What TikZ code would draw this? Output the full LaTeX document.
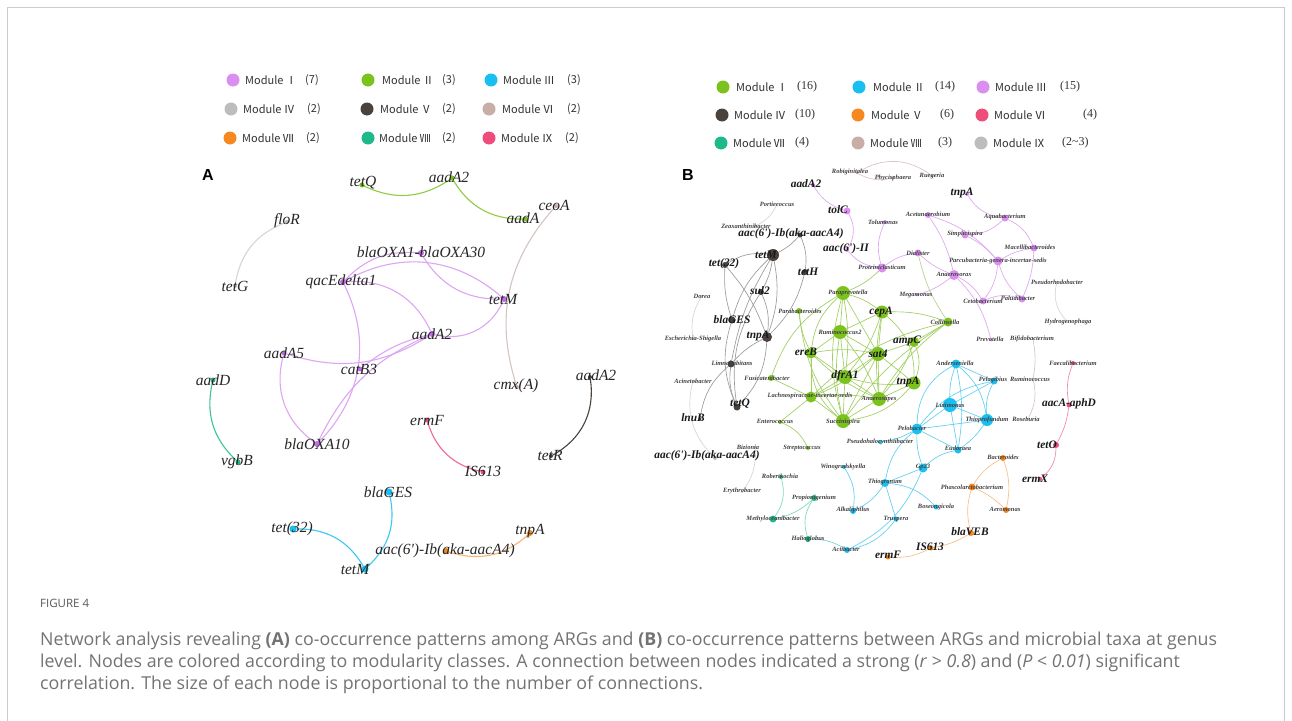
\documentclass[tikz,border=0pt]{standalone}
\usepackage{fontspec}
\setmainfont{Liberation Serif}
\newfontfamily\cjkf{Noto Sans CJK SC}
\newfontfamily\hvf{Liberation Sans}
\newfontfamily\capf{Open Sans}
\pgfdeclarelayer{bg}
\pgfdeclarelayer{edges}
\pgfdeclarelayer{lab}
\pgfsetlayers{bg,edges,main,lab}
% colours
\definecolor{cPur}{HTML}{DA8EF0}\definecolor{cPurD}{HTML}{C46BE8}\definecolor{cPurE}{HTML}{DDA6F2}
\definecolor{cGrn}{HTML}{7CC21E}\definecolor{cGrnE}{HTML}{9FCF5E}
\definecolor{cCyn}{HTML}{18BFF0}\definecolor{cCynE}{HTML}{5FCFF0}
\definecolor{cGry}{HTML}{BDBDBD}\definecolor{cGryE}{HTML}{D5D5D5}
\definecolor{cDrk}{HTML}{4A423D}\definecolor{cDrkE}{HTML}{9A9A9A}
\definecolor{cTan}{HTML}{C9AEA8}\definecolor{cTanE}{HTML}{D6C4C0}
\definecolor{cOrg}{HTML}{F5881F}\definecolor{cOrgE}{HTML}{F6BE88}
\definecolor{cTeal}{HTML}{1DB98B}\definecolor{cTealE}{HTML}{7AD8BE}
\definecolor{cPnk}{HTML}{EE4D7C}\definecolor{cPnkE}{HTML}{F088A8}
\definecolor{capc}{HTML}{737373}
\newcommand\gn[7]{\node[dot={#3}{#4}] (#1) at (#2) {};%
  \begin{pgfonlayer}{lab}\node[#6] (#1t) at (#5) {#7};\end{pgfonlayer}}
\newcommand\qs{\textquotesingle}
\begin{document}
\begin{tikzpicture}[x=1pt,y=-1pt,
  dot/.style 2 args={circle,fill=#2,minimum size=#1pt,inner sep=0pt,outer sep=0pt,draw=none},
  la/.style={font=\fontsize{15.5}{16}\selectfont\itshape,inner sep=0pt,text=black!85},
  lb/.style={font=\fontsize{11.4}{12}\selectfont\bfseries\itshape,inner sep=0pt,text=black!90},
  ls/.style={font=\fontsize{6.5}{7}\selectfont\bfseries\itshape,inner sep=0pt,text=black!75},
  ea/.style={line width=1.1pt,draw=#1},
  eb/.style={line width=0.65pt,draw=#1},
  legt/.style={font=\cjkf\fontsize{11}{12}\selectfont,anchor=west,inner sep=0pt,text=black!80},
  cnt/.style={font=\cjkf\fontsize{11}{12}\selectfont,anchor=west,inner sep=0pt,text=black!80},
  cntb/.style={font=\fontsize{12}{13}\selectfont,anchor=west,inner sep=0pt,text=black!80},
  captxt/.style={font=\capf\fontsize{17.8}{18}\selectfont,anchor=west,inner sep=0pt,text=capc}
]
\useasboundingbox (0,0) rectangle (1292,720);
\begin{pgfonlayer}{bg}
\fill[white] (0,0) rectangle (1292,720);
\begin{scope}
\clip (0,0) rectangle (1292,720);
\draw[black!20,line width=0.8pt] (7.5,7.5) rectangle (1284.5,740);
\end{scope}
\end{pgfonlayer}

% ================= Legend A =================
\node[dot={13}{cPur}] (lA1) at (233,80) {};  \node[legt] (lA1t) at (245,80) {Module Ⅰ};  \node[cnt] (lA1c) at (305,80) {(7)};
\node[dot={13}{cGrn}] (lA2) at (368,80) {};  \node[legt] (lA2t) at (382,80) {Module Ⅱ};  \node[cnt] (lA2c) at (442,80) {(3)};
\node[dot={13}{cCyn}] (lA3) at (491,80) {};  \node[legt] (lA3t) at (503,80) {Module Ⅲ};  \node[cnt] (lA3c) at (567,80) {(3)};
\node[dot={13}{cGry}] (lA4) at (231,109) {}; \node[legt] (lA4t) at (243,109) {Module Ⅳ}; \node[cnt] (lA4c) at (307,109) {(2)};
\node[dot={13}{cDrk}] (lA5) at (367,109) {}; \node[legt] (lA5t) at (380,109) {Module Ⅴ}; \node[cnt] (lA5c) at (442,109) {(2)};
\node[dot={13}{cTan}] (lA6) at (489,109) {}; \node[legt] (lA6t) at (502,109) {Module Ⅵ}; \node[cnt] (lA6c) at (567,109) {(2)};
\node[dot={13}{cOrg}] (lA7) at (230,138) {}; \node[legt] (lA7t) at (242,138) {Module Ⅶ}; \node[cnt] (lA7c) at (306,138) {(2)};
\node[dot={13}{cTeal}] (lA8) at (368,138) {};\node[legt] (lA8t) at (379,138) {Module Ⅷ}; \node[cnt] (lA8c) at (442,138) {(2)};
\node[dot={13}{cPnk}] (lA9) at (489,138) {}; \node[legt] (lA9t) at (501,138) {Module Ⅸ}; \node[cnt] (lA9c) at (565,138) {(2)};

% ================= Legend B =================
\node[dot={13}{cGrn}] (lB1) at (723,87) {};  \node[legt] (lB1t) at (736,87) {Module Ⅰ};  \node[cntb] (lB1c) at (797,87) {(16)};
\node[dot={13}{cCyn}] (lB2) at (859,87) {};  \node[legt] (lB2t) at (873,87) {Module Ⅱ};  \node[cntb] (lB2c) at (935,87) {(14)};
\node[dot={13}{cPur}] (lB3) at (983,87) {};  \node[legt] (lB3t) at (995,87) {Module Ⅲ};  \node[cntb] (lB3c) at (1060,87) {(15)};
\node[dot={13}{cDrk}] (lB4) at (722,115) {}; \node[legt] (lB4t) at (734,115) {Module Ⅳ}; \node[cntb] (lB4c) at (795,115) {(10)};
\node[dot={13}{cOrg}] (lB5) at (858,115) {}; \node[legt] (lB5t) at (871,115) {Module Ⅴ}; \node[cntb] (lB5c) at (940,115) {(6)};
\node[dot={13}{cPnk}] (lB6) at (982,115) {}; \node[legt] (lB6t) at (994,115) {Module Ⅵ}; \node[cntb] (lB6c) at (1083,115) {(4)};
\node[dot={13}{cTeal}] (lB7) at (721,143) {};\node[legt] (lB7t) at (733,143) {Module Ⅶ}; \node[cntb] (lB7c) at (795,143) {(4)};
\node[dot={13}{cTan}] (lB8) at (858,143) {}; \node[legt] (lB8t) at (870,143) {Module Ⅷ}; \node[cntb] (lB8c) at (938,143) {(3)};
\node[dot={13}{cGry}] (lB9) at (981,143) {}; \node[legt] (lB9t) at (993,143) {Module Ⅸ}; \node[cntb] (lB9c) at (1062,143) {(2\textasciitilde3)};

\node[font=\hvf\bfseries\fontsize{16}{17}\selectfont,inner sep=0pt] (panA) at (208,175) {A};
\node[font=\hvf\bfseries\fontsize{16}{17}\selectfont,inner sep=0pt] (panB) at (688,175) {B};

% ================= Panel A =================
\gn{tetQ}{362,185}{5}{cGrn}{363,183}{la}{tetQ}
\gn{Aag}{452,178}{5}{cGrn}{449,177}{la}{aadA2}
\gn{aadA}{525,219}{5}{cGrn}{523,218}{la}{aadA}
\gn{floR}{287,222}{4}{cGry}{287,221}{la}{floR}
\gn{tetG}{235,286}{4}{cGry}{235,286}{la}{tetG}
\gn{bOXAa}{421,253}{6}{cPurD}{421,252}{la}{blaOXA1-blaOXA30}
\gn{qac}{343,282}{6}{cPurD}{341,282}{la}{qacEdelta1}
\gn{AtetM}{504,299}{6}{cPurD}{503,299}{la}{tetM}
\gn{Aap}{432,334}{6}{cPurD}{432,334}{la}{aadA2}
\gn{aadAf}{284,353}{5}{cPurD}{284,353}{la}{aadA5}
\gn{catB}{360,369}{5}{cPurD}{359,369}{la}{catB3}
\gn{bOXAb}{317,444}{6}{cPurD}{317,444}{la}{blaOXA10}
\gn{cmx}{517,387}{4}{cTan}{516,386}{la}{cmx(A)}
\gn{ceoA}{556,206}{4}{cTan}{554,205}{la}{ceoA}
\gn{aadD}{213,380}{5}{cTeal}{213,380}{la}{aadD}
\gn{vgbB}{238,462}{5}{cTeal}{237,462}{la}{vgbB}
\gn{ermF}{427,420}{5}{cPnk}{427,420}{la}{ermF}
\gn{ISA}{483,472}{5}{cPnk}{483,471}{la}{IS613}
\gn{Aad}{590,377}{4}{cDrk}{596,375}{la}{aadA2}
\gn{tetR}{551,456}{4}{cDrk}{550,455}{la}{tetR}
\gn{AGES}{389,492}{7}{cCyn}{388,492}{la}{blaGES}
\gn{Atet}{293,529}{7}{cCyn}{292,529}{la}{tet(32)}
\gn{AtetMb}{365,569}{7}{cCyn}{355,569}{la}{tetM}
\gn{Aaac}{446,551}{6}{cOrg}{445,551}{la}{aac(6\qs)-Ib(aka-aacA4)}
\gn{AtnpA}{530,533}{6}{cOrg}{530,531}{la}{tnpA}

\begin{pgfonlayer}{edges}
\draw[ea=cGrn!85] (tetQ) to[bend right=30] (Aag);
\draw[ea=cGrn!85] (Aag) to[bend right=30] (aadA);
\draw[ea=cGryE] (floR) to[bend right=30] (tetG);
\draw[ea=cPurE] (qac) to[bend left=25] (bOXAa);
\draw[ea=cPurE] (qac) to[bend left=35] (AtetM);
\draw[ea=cPurE] (bOXAa) to[bend right=30] (AtetM);
\draw[ea=cPurE] (qac) to[bend left=35] (Aap);
\draw[ea=cPurE] (qac) to[bend left=35] (bOXAb);
\draw[ea=cPurE] (Aap) to[bend right=40] (AtetM);
\draw[ea=cPurE] (catB) to[bend left=12] (Aap);
\draw[ea=cPurE] (aadAf) to[bend right=25] (Aap);
\draw[ea=cPurE] (aadAf) to[bend right=35] (bOXAb);
\draw[ea=cPurE] (Aap) to[bend right=20] (bOXAb);
\draw[ea=cTanE] (cmx) to[bend left=30] (ceoA);
\draw[ea=cTeal!85] (aadD) to[bend right=30] (vgbB);
\draw[ea=cPnk!85] (ermF) to[bend right=30] (ISA);
\draw[ea=cDrk] (Aad) to[bend left=35] (tetR);
\draw[ea=cCyn!85] (AGES) to[bend left=30] (AtetMb);
\draw[ea=cCyn!85] (Atet) to[bend left=30] (AtetMb);
\draw[ea=cOrgE!80!cOrg] (Aaac) to[bend right=30] (AtnpA);
\end{pgfonlayer}

% ================= Panel B =================
\gn{robi}{857,173}{3}{cTan}{850,172}{ls}{Robiginitalea}
\gn{phyc}{893,178}{3}{cTan}{893,178}{ls}{Phycisphaera}
\gn{rueg}{932,176}{3}{cTan}{932,176}{ls}{Ruegeria}
\gn{baadA}{813,185}{4}{cPurD}{806,184}{lb}{aadA2}
\gn{port}{777,204}{2}{cGry}{777,204}{ls}{Portiecoccus}
\gn{tolC}{847,211}{7}{cPur}{838,210}{lb}{tolC}
\gn{zeax}{755,226}{2}{cGry}{746,226}{ls}{Zeaxanthinibacter}
\gn{aacT}{800,235}{5}{cDrk}{791,234}{lb}{aac(6\qs)-Ib(aka-aacA4)}
\gn{aacII}{847,250}{4}{cPur}{846,249}{lb}{aac(6\qs)-II}
\gn{btetM}{773,255}{12}{cDrk}{766,255}{lb}{tetM}
\gn{btet}{725,265}{6}{cDrk}{724,264}{lb}{tet(32)}
\gn{tetH}{805,272}{6}{cDrk}{808,272}{lb}{tetH}
\gn{sul}{761,292}{6}{cDrk}{760,291}{lb}{sul2}
\gn{dorea}{702,296}{2}{cGry}{702,296}{ls}{Dorea}
\gn{parab}{799,311}{6}{cGrn}{800,311}{ls}{Parabacteroides}
\gn{parap}{843,293}{14}{cGrn}{848,293}{ls}{Paraprevotella}
\gn{bGES}{732,320}{7}{cDrk}{732,320}{lb}{blaGES}
\gn{tnpP}{967,194}{4}{cPur}{962,193}{lb}{tnpA}
\gn{aceta}{928,215}{6}{cPur}{928,214}{ls}{Acetanaerobium}
\gn{aquab}{1005,218}{7}{cPur}{1005,217}{ls}{Aquabacterium}
\gn{tolum}{885,222}{4}{cPur}{883,222}{ls}{Tolumonas}
\gn{simpl}{965,235}{7}{cPur}{965,234}{ls}{Simplicispira}
\gn{macel}{1034,248}{7}{cPur}{1030,247}{ls}{Macellibacteroides}
\gn{dial}{918,253}{7}{cPur}{918,253}{ls}{Dialister}
\gn{parcu}{998,261}{9}{cPur}{998,261}{ls}{Parcubacteria-genera-incertae-sedis}
\gn{prote}{882,268}{9}{cPur}{882,267}{ls}{Proteiniclasticum}
\gn{anv}{954,275}{10}{cPur}{954,274}{ls}{Anaerovorax}
\gn{psrh}{1057,282}{2}{cGry}{1057,282}{ls}{Pseudorhodobacter}
\gn{mega}{917,295}{3}{cPur}{916,295}{ls}{Megamonas}
\gn{ceto}{983,301}{7}{cPur}{983,301}{ls}{Cetobacterium}
\gn{palud}{1022,299}{7}{cPur}{1018,298}{ls}{Paludibacter}
\gn{cepA}{882,312}{13}{cGrn}{881,312}{lb}{cepA}
\gn{collin}{948,322}{9}{cGrn}{945,322}{ls}{Collinsella}
\gn{hydro}{1068,322}{2}{cGry}{1068,322}{ls}{Hydrogenophaga}
\gn{rumi}{840,332}{14}{cGrn}{840,332}{ls}{Ruminococcus2}
\gn{ereB}{811,353}{11}{cGrn}{806,352}{lb}{ereB}
\gn{sat}{878,354}{14}{cGrn}{878,354}{lb}{sat4}
\gn{ampC}{914,342}{10}{cGrn}{907,341}{lb}{ampC}
\gn{tnpK}{767,337}{10}{cDrk}{758,336}{lb}{tnpA}
\gn{escher}{693,339}{2}{cGry}{693,339}{ls}{Escherichia-Shigella}
\gn{dfr}{845,377}{14}{cGrn}{845,376}{lb}{dfrA1}
\gn{tnpG}{914,383}{13}{cGrn}{908,382}{lb}{tnpA}
\gn{fusic}{771,378}{6}{cGrn}{767,378}{ls}{Fusicatenibacter}
\gn{limno}{731,364}{7}{cDrk}{732,363}{ls}{Limnohabitans}
\gn{acine}{693,381}{2}{cGry}{693,381}{ls}{Acinetobacter}
\gn{lachno}{811,397}{11}{cGrn}{810,396}{ls}{Lachnospiraceae-incertae-sedis}
\gn{anst}{879,399}{14}{cGrn}{879,399}{ls}{Anaerostipes}
\gn{succ}{843,421}{14}{cGrn}{843,422}{ls}{Succinispira}
\gn{entero}{780,422}{4}{cGrn}{775,421}{ls}{Enterococcus}
\gn{btetQ}{737,407}{7}{cDrk}{740,404}{lb}{tetQ}
\gn{lnuB}{700,419}{3}{cDrk}{693,418}{lb}{lnuB}
\gn{strep}{808,448}{4}{cGrn}{802,448}{ls}{Streptococcus}
\gn{bizio}{755,447}{2}{cGry}{748,447}{ls}{Bizionia}
\gn{aacB}{715,458}{4}{cGry}{707,456}{lb}{aac(6\qs)-Ib(aka-aacA4)}
\gn{psha}{880,442}{4}{cCyn}{880,442}{ls}{Pseudohalocynthiibacter}
\gn{ander}{956,364}{9}{cCyn}{955,363}{ls}{Anderseniella}
\gn{pelag}{994,381}{7}{cCyn}{993,380}{ls}{Pelagibius}
\gn{rumin}{1033,379}{2}{cGry}{1030,379}{ls}{Ruminococcus}
\gn{prevo}{991,340}{3}{cPur}{990,339}{ls}{Prevotella}
\gn{bifid}{1033,339}{2}{cGry}{1032,339}{ls}{Bifidobacterium}
\gn{faecal}{1073,363}{4}{cPnk}{1073,363}{ls}{Faecalibacterium}
\gn{lutim}{950,405}{14}{cCyn}{950,405}{ls}{Lutimonas}
\gn{thiop}{987,420}{12}{cCyn}{987,420}{ls}{Thioprofundum}
\gn{rosebu}{1028,419}{2}{cGry}{1026,419}{ls}{Roseburia}
\gn{aacAp}{1069,405}{5}{cPnk}{1069,404}{lb}{aacA-aphD}
\gn{pelob}{917,429}{11}{cCyn}{912,428}{ls}{Pelobacter}
\gn{eudor}{958,450}{7}{cCyn}{958,448}{ls}{Eudoraea}
\gn{tetO}{1056,445}{6}{cPnk}{1047,445}{lb}{tetO}
\gn{bacter}{1003,458}{6}{cOrg}{1003,457}{ls}{Bacteroides}
\gn{winog}{844,467}{4}{cCyn}{843,467}{ls}{Winogradskyella}
\gn{gp}{923,468}{9}{cCyn}{923,467}{ls}{Gp23}
\gn{eryth}{742,492}{2}{cGry}{742,491}{ls}{Erythrobacter}
\gn{robert}{781,477}{4}{cTeal}{780,476}{ls}{Robertkochia}
\gn{thiog}{885,483}{8}{cCyn}{885,482}{ls}{Thiogranum}
\gn{phasc}{972,487}{7}{cOrg}{972,487}{ls}{Phascolarctobacterium}
\gn{ermX}{1040,479}{4}{cPnk}{1035,479}{lb}{ermX}
\gn{propi}{814,498}{6}{cTeal}{814,498}{ls}{Propionigenium}
\gn{bosea}{936,507}{5}{cCyn}{936,507}{ls}{Boseongicola}
\gn{aerom}{1006,510}{6}{cOrg}{1005,509}{ls}{Aeromonas}
\gn{alkal}{853,511}{6}{cCyn}{853,510}{ls}{Alkaliphilus}
\gn{methy}{773,519}{7}{cTeal}{773,519}{ls}{Methyloceanibacter}
\gn{truep}{896,519}{5}{cCyn}{896,519}{ls}{Truepera}
\gn{bVEB}{971,533}{6}{cOrg}{970,532}{lb}{blaVEB}
\gn{halio}{808,539}{6}{cTeal}{808,539}{ls}{Halioglobus}
\gn{actib}{847,550}{6}{cCyn}{846,549}{ls}{Actibacter}
\gn{ISB}{931,548}{5}{cOrg}{930,547}{lb}{IS613}
\gn{ermFB}{888,557}{5}{cOrg}{888,555}{lb}{ermF}

\begin{pgfonlayer}{edges}
% module VIII (tan) and IX (gray)
\draw[eb=cTanE] (robi) to[bend left=35] (rueg);
\draw[eb=cTanE] (robi) to[bend right=20] (phyc);
\draw[eb=cGryE] (port) to[bend left=20] (zeax);
\draw[eb=cGryE] (dorea) to[bend right=20] (escher);
\draw[eb=cGryE] (acine) to[bend right=30] (aacB);
\draw[eb=cGryE] (bizio) to[bend left=20] (eryth);
\draw[eb=cGryE] (psrh) to[bend right=30] (hydro);
\draw[eb=cTanE] (bifid) to[bend left=10] (rumin);
\draw[eb=cTanE] (rumin) to[bend left=20] (rosebu);
% module IV (dark)
\draw[eb=cDrkE] (aacT) to[bend left=10] (btetM);
\draw[eb=cDrkE] (aacT) to[bend left=15] (tetH);
\draw[eb=cDrkE] (btetM) to[bend right=20] (btet);
\draw[eb=cDrkE] (btetM) to[bend left=10] (sul);
\draw[eb=cDrkE] (btetM) to[bend right=15] (bGES);
\draw[eb=cDrkE] (btetM) to[bend left=15] (tnpK);
\draw[eb=cDrkE] (btetM) to[bend right=10] (limno);
\draw[eb=cDrkE] (tetH) to[bend left=15] (tnpK);
\draw[eb=cDrkE] (btet) to[bend right=10] (bGES);
\draw[eb=cDrkE] (btet) to[bend left=10] (tnpK);
\draw[eb=cDrkE] (bGES) to[bend right=20] (btetQ);
\draw[eb=cDrkE] (sul) to[bend right=20] (btetQ);
\draw[eb=cDrkE] (sul) to[bend left=15] (tnpK);
\draw[eb=cDrkE] (tnpK) to[bend right=10] (limno);
\draw[eb=cDrkE] (tnpK) to[bend left=20] (btetQ);
\draw[eb=cDrkE] (limno) to[bend right=15] (btetQ);
\draw[eb=cDrkE] (limno) to[bend right=20] (lnuB);
% module III (purple)
\draw[eb=cPurE] (baadA) to[bend right=20] (tolC);
\draw[eb=cPurE] (tolC) to[bend left=30] (aacII);
\draw[eb=cPurE] (aacII) to[bend right=20] (prote);
\draw[eb=cPurE] (tolum) to[bend right=20] (prote);
\draw[eb=cPurE] (prote) to[bend left=15] (dial);
\draw[eb=cPurE] (dial) to[bend right=10] (anv);
\draw[eb=cPurE] (aceta) to[bend left=15] (parcu);
\draw[eb=cPurE] (aceta) to[bend left=10] (anv);
\draw[eb=cPurE] (tnpP) to[bend right=25] (aquab);
\draw[eb=cPurE] (aquab) to[bend left=20] (simpl);
\draw[eb=cPurE] (aquab) to[bend left=20] (macel);
\draw[eb=cPurE] (simpl) to[bend left=10] (parcu);
\draw[eb=cPurE] (macel) to[bend right=10] (parcu);
\draw[eb=cPurE] (macel) to[bend left=10] (palud);
\draw[eb=cPurE] (parcu) to[bend left=15] (ceto);
\draw[eb=cPurE] (parcu) to[bend right=15] (palud);
\draw[eb=cPurE] (anv) to[bend left=15] (ceto);
\draw[eb=cPurE] (anv) to[bend left=10] (mega);
\draw[eb=cPurE] (ceto) to[bend left=20] (palud);
\draw[eb=cPurE] (anv) to[bend left=15] (prevo);
\draw[eb=cGrnE!60!cGryE] (dial) to[bend right=10] (collin);
\draw[eb=cGrnE] (prote) to[bend left=10] (parap);
% module I (green)
\foreach \a/\b/\k in {parap/cepA/10,parap/rumi/0,parap/ereB/-20,parap/sat/0,parap/dfr/8,parap/succ/-15,
  parab/ereB/-10,parab/succ/-15,cepA/rumi/0,cepA/sat/0,cepA/dfr/10,cepA/collin/10,cepA/tnpG/25,cepA/anst/-8,
  rumi/sat/0,rumi/dfr/0,rumi/succ/-10,rumi/anst/8,rumi/ereB/0,ereB/sat/10,ereB/dfr/0,ereB/succ/-25,ereB/lachno/0,
  ereB/anst/-10,sat/ampC/0,sat/dfr/0,sat/tnpG/0,sat/anst/0,sat/succ/0,sat/lachno/10,ampC/tnpG/20,ampC/collin/0,
  ampC/anst/10,dfr/lachno/0,dfr/anst/0,dfr/succ/0,dfr/tnpG/-10,tnpG/anst/0,tnpG/succ/20,anst/succ/0,anst/lachno/-8,
  lachno/succ/0,fusic/parap/20,fusic/lachno/0,entero/lachno/0,collin/lachno/-15,collin/anst/-10,collin/succ/-10}
  {\draw[eb=cGrnE] (\a) to[bend left=\k] (\b);}
\draw[eb=cGrnE] (entero) to[bend left=20] (strep);
% module II (cyan)
\foreach \a/\b/\k in {ander/pelag/0,ander/lutim/-10,ander/thiop/20,ander/pelob/-30,ander/eudor/10,
  pelag/lutim/0,pelag/thiop/-15,pelag/pelob/-20,lutim/thiop/0,lutim/pelob/0,lutim/eudor/0,thiop/eudor/10,
  thiop/pelob/0,pelob/psha/10,pelob/gp/-10,pelob/thiog/-20,pelob/eudor/0,gp/eudor/15,gp/thiog/0,gp/actib/20,
  thiog/bosea/20,thiog/truep/0,thiog/alkal/15,winog/alkal/20,truep/actib/20}
  {\draw[eb=cCynE] (\a) to[bend left=\k] (\b);}
% module VII (teal)
\draw[eb=cTealE] (robert) to[bend left=25] (methy);
\draw[eb=cTealE] (methy) to[bend right=15] (propi);
\draw[eb=cTealE] (propi) to[bend right=25] (halio);
\draw[eb=cTealE!50!cCynE] (halio) to[bend left=15] (actib);
% module V (orange)
\draw[eb=cOrgE] (bacter) to[bend right=15] (phasc);
\draw[eb=cOrgE] (bacter) to[bend left=15] (aerom);
\draw[eb=cOrgE] (phasc) to[bend left=10] (aerom);
\draw[eb=cOrgE] (phasc) to[bend right=15] (bVEB);
\draw[eb=cOrgE] (bVEB) to[bend left=10] (ISB);
\draw[eb=cOrgE] (ISB) to[bend left=15] (ermFB);
% module VI (pink)
\draw[eb=cPnkE] (faecal) to[bend right=15] (aacAp);
\draw[eb=cPnkE] (aacAp) to[bend left=10] (tetO);
\draw[eb=cPnkE] (tetO) to[bend left=25] (ermX);
\end{pgfonlayer}

% ================= Caption =================
\node[font=\capf\fontsize{11.5}{12}\selectfont,anchor=west,inner sep=0pt,text=black!65] (figl) at (40,603) {FIGURE 4};
\node[captxt] (cap1) at (40,641) {Network analysis revealing \textbf{(A)} co-occurrence patterns among ARGs and \textbf{(B)} co-occurrence patterns between ARGs and microbial taxa at genus};
\node[captxt] (cap2) at (40,663) {level. Nodes are colored according to modularity classes. A connection between nodes indicated a strong (\textit{r} > \textit{0.8}) and (\textit{P} < \textit{0.01}) significant};
\node[captxt] (cap3) at (40,685) {correlation. The size of each node is proportional to the number of connections.};
\end{tikzpicture}
\end{document}
